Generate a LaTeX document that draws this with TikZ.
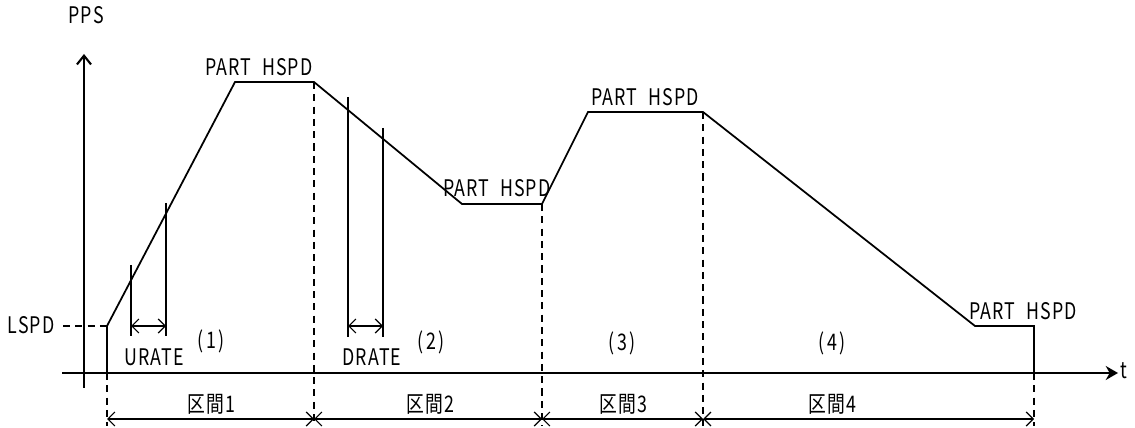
\documentclass[tikz,border=0pt]{standalone}
\usepackage{fontspec}
\setmainfont{Noto Sans CJK JP}[FakeStretch=0.78,LetterSpace=5]
\usetikzlibrary{arrows.meta}
\begin{document}
\begin{tikzpicture}[x=0.02cm,y=-0.02cm,
  lbl/.style={font=\fontsize{13}{13}\selectfont, inner sep=0pt},
  thick line/.style={line width=1pt},
  thin line/.style={line width=0.6pt},
  barb/.tip={Straight Barb[length=4pt,width=8pt,line width=0.7pt]},
  dim/.style={line width=0.7pt, barb-barb},
  guide/.style={line width=0.7pt, dash pattern=on 4pt off 3pt}
]
\useasboundingbox (0,0) rectangle (1135,428);
\newcommand{\pn}[1]{(\hspace{1.5pt}#1\hspace{1.5pt})}
\newcommand{\ph}{PART\hspace{6pt}HSPD}
% axes
\coordinate (ybot) at (84,388);
\coordinate (ytop) at (84,54);
\coordinate (xl) at (62,373);
\coordinate (xr) at (1118,373);
\draw[thick line, -{Straight Barb[length=5pt,width=8pt,line width=1.2pt]}] (ybot) -- (ytop);
\draw[thick line, -{Stealth[length=7pt,width=8pt]}] (xl) -- (xr);
\node[lbl, anchor=west] (t) at (1120,371) {t};
\node[lbl] (pps) at (86,15) {PPS};
% profile
\coordinate (p0) at (107,373);
\coordinate (p1) at (107,326);
\coordinate (p2) at (235,82);
\coordinate (p3) at (314,82);
\coordinate (p4) at (462,204);
\coordinate (p5) at (542,204);
\coordinate (p6) at (588,112);
\coordinate (p7) at (703,112);
\coordinate (p8) at (975,326);
\coordinate (p9) at (1034,326);
\coordinate (p10) at (1034,373);
\draw[thick line, line join=miter] (p0) -- (p1) -- (p2) -- (p3) -- (p4) -- (p5) -- (p6) -- (p7) -- (p8) -- (p9) -- (p10);
% LSPD
\node[lbl, anchor=east] (lspd) at (55,325) {LSPD};
\coordinate (lspdd) at (63,326);
\draw[guide] (lspdd) -- (p1);
% PART HSPD labels
\node[lbl] (h1) at (259,67) {\ph};
\node[lbl] (h2) at (497,188) {\ph};
\node[lbl] (h3) at (645,97) {\ph};
\node[lbl] (h4) at (1023,311) {\ph};
% guide lines
\coordinate (d0) at (107,419);
\coordinate (d1) at (314,419);
\coordinate (d2) at (542,419);
\coordinate (d3) at (703,419);
\coordinate (d4) at (1034,419);
\draw[guide] (p0) -- ([yshift=-4pt]d0);
\draw[guide] (p3) -- ([yshift=-4pt]d1);
\draw[guide] (p5) -- ([yshift=-4pt]d2);
\draw[guide] (p7) -- ([yshift=-4pt]d3);
\draw[guide] (p10) -- ([yshift=-4pt]d4);
% section dimension lines
\draw[dim] (d0) -- (d1);
\draw[dim] (d1) -- (d2);
\draw[dim] (d2) -- (d3);
\draw[dim] (d3) -- (d4);
\node[lbl] (k1) at (211,404) {区間1};
\node[lbl] (k2) at (430,404) {区間2};
\node[lbl] (k3) at (623,404) {区間3};
\node[lbl] (k4) at (832,404) {区間4};
% section numbers
\node[lbl] (n1) at (211,341) {\pn{1}};
\node[lbl] (n2) at (431,342) {\pn{2}};
\node[lbl] (n3) at (622,343) {\pn{3}};
\node[lbl] (n4) at (832,343) {\pn{4}};
% URATE
\coordinate (u1t) at (131,265);
\coordinate (u1b) at (131,336);
\coordinate (u2t) at (166,203);
\coordinate (u2b) at (166,336);
\draw[thin line] (u1t) -- (u1b);
\draw[thin line] (u2t) -- (u2b);
\coordinate (ua) at (131,326);
\coordinate (ub) at (166,326);
\draw[dim] (ua) -- (ub);
\node[lbl] (urate) at (154,357) {URATE};
% DRATE
\coordinate (v1t) at (348,97);
\coordinate (v1b) at (348,337);
\coordinate (v2t) at (383,128);
\coordinate (v2b) at (383,337);
\draw[thin line] (v1t) -- (v1b);
\draw[thin line] (v2t) -- (v2b);
\coordinate (va) at (348,326);
\coordinate (vb) at (383,326);
\draw[dim] (va) -- (vb);
\node[lbl] (drate) at (372,357) {DRATE};
\end{tikzpicture}
\end{document}
